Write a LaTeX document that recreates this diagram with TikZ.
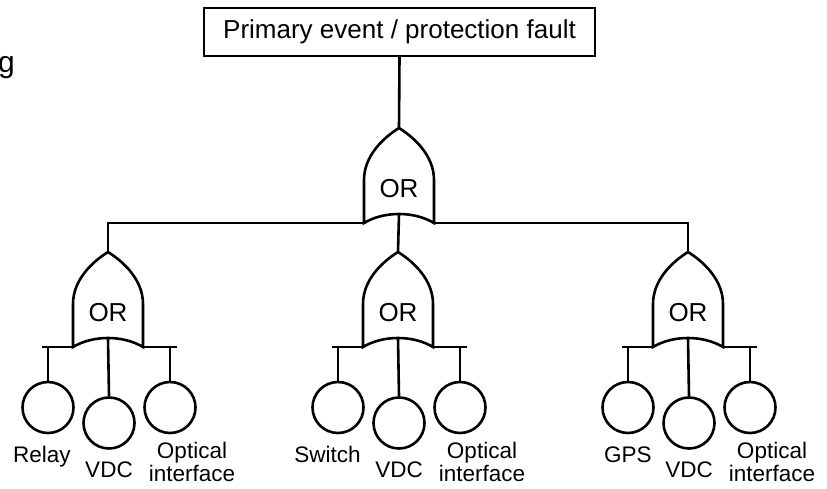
\documentclass[tikz,border=0pt]{standalone}
\usepackage{fontspec}
\setmainfont{Liberation Sans}
\begin{document}
\begin{tikzpicture}[x=1pt,y=-1pt,
  every path/.style={line width=2.6pt,line join=miter},
  topbox/.style={draw,line width=2.4pt,minimum width=391pt,minimum height=48pt,inner sep=0pt,font=\fontsize{26}{28}\selectfont},
  orlabel/.style={inner sep=0pt,font=\fontsize{26}{28}\selectfont},
  event/.style={draw,circle,line width=2.6pt,minimum size=51pt,inner sep=0pt},
  lbl/.style={inner sep=0pt,font=\fontsize{22.5}{23}\selectfont},
  orgate/.pic={
    \draw (0,0) coordinate (-apex) .. controls (-16,10) and (-35,28) .. (-35,52)
      -- (-35,95) coordinate (-lc) .. controls (-15,83) and (15,83) .. (35,95) coordinate (-rc)
      -- (35,52) .. controls (35,28) and (16,10) .. (0,0) -- cycle;
    \coordinate (-mid) at (0,86);
    \coordinate (-lb) at (-66,95);
    \coordinate (-rb) at (69,95);
    \node[orlabel] (-or) at (0,61) {OR};
  }]
\useasboundingbox (0,0) rectangle (827,489);

% clipped text fragment at top left, as in the reference
\node[inner sep=0pt,anchor=base east,font=\fontsize{30}{32}\selectfont] (frag) at (16,73) {g};

\node[topbox] (top) at (399.5,32) {Primary event / protection fault};

\pic (g0) at (399,128) {orgate};
\pic (g1) at (108,252) {orgate};
\pic (g2) at (398,252) {orgate};
\pic (g3) at (688,252) {orgate};

\draw (top.south) -- (g0-apex);
\draw (g1-apex) |- (g0-lc);
\draw (g3-apex) |- (g0-rc);
\draw (g0-mid) -- (g2-apex);

% basic events
\foreach \g/\x in {1/108,2/398,3/688}{
  \node[event] (e\g a) at (\x-60,407.5) {};
  \node[event] (e\g b) at (\x+1,423) {};
  \node[event] (e\g c) at (\x+62,407.5) {};
  \draw (g\g-lb) -- (g\g-lc);
  \draw (g\g-rc) -- (g\g-rb);
  \draw (e\g a.north) -- (e\g a.north |- g\g-lc);
  \draw (e\g c.north) -- (e\g c.north |- g\g-rc);
  \draw (g\g-mid) -- (e\g b.north);
  \node[lbl,anchor=base] (v\g) at (\x+1,477) {VDC};
  \node[lbl,align=center] (o\g) at (\x+84,462) {Optical\\interface};
}
\node[lbl,anchor=base east] (l1) at (72,462) {Relay};
\node[lbl,anchor=base east] (l2) at (362,462) {Switch};
\node[lbl,anchor=base east] (l3) at (653,462) {GPS};
\end{tikzpicture}
\end{document}
